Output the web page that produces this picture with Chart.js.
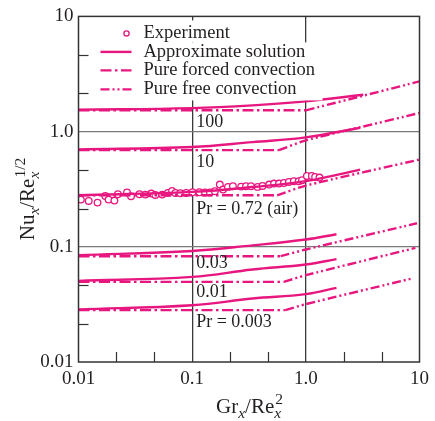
<!DOCTYPE html>
<html>
<head>
<meta charset="utf-8">
<script src="https://cdn.jsdelivr.net/npm/chart.js@4.4.0/dist/chart.umd.min.js"></script>
<style>
    body { margin: 0; background: #fff; }
    #wrap { width: 435px; height: 421px; }
</style>
</head>
<body>
<div id="wrap"><canvas id="chart1" width="435" height="421"></canvas></div>
<script>
// x = Gr_x/Re_x^2, y = Nu_x/Re_x^(1/2)
const decadeTicks = [0.01, 0.1, 1, 10];
const decadeLabels = ['0.01', '0.1', '1.0', '10'];
const minorTicks = [0.0215, 0.0464, 0.215, 0.464, 2.15, 4.64];

const prLabels = ['100', '10', 'Pr = 0.72 (air)', '0.03', '0.01', 'Pr = 0.003'];

// approximate solution (solid)
const approxX = [
    [0.01, 0.1, 0.34, 1.0, 3.2],
    [0.01, 0.1, 0.34, 1.0, 3.0],
    [0.01, 0.1, 0.34, 1.0, 3.0],
    [0.01, 0.1, 0.34, 1.0, 1.86],
    [0.01, 0.1, 0.34, 1.0, 1.86],
    [0.01, 0.1, 0.34, 1.0, 1.86]
];
const approxY = [
    [1.55, 1.60, 1.69, 1.83, 2.09],
    [0.70, 0.735, 0.81, 0.89, 1.08],
    [0.28, 0.30, 0.33, 0.372, 0.468],
    [0.0846, 0.092, 0.103, 0.1157, 0.1286],
    [0.0506, 0.0548, 0.0636, 0.0702, 0.0781],
    [0.0286, 0.0311, 0.0356, 0.0388, 0.0440]
];

// pure forced convection (dash-dot)
const forcedX = [
    [0.01, 1.0],
    [0.01, 0.58],
    [0.01, 0.56],
    [0.01, 0.60],
    [0.01, 0.64],
    [0.01, 0.66]
];
const forcedY = [
    [1.53, 1.53],
    [0.69, 0.69],
    [0.28, 0.28],
    [0.0829, 0.0829],
    [0.0496, 0.0496],
    [0.0282, 0.0282]
];

// pure free convection (dash-dot-dot)
const freeX = [
    [1.0, 10],
    [0.58, 1.0, 3.0, 10],
    [0.56, 1.0, 10],
    [0.60, 1.0, 9.5],
    [0.64, 1.0, 9.2],
    [0.66, 1.0, 8.6]
];
const freeY = [
    [1.53, 2.73],
    [0.69, 0.84, 1.09, 1.45],
    [0.28, 0.34, 0.572],
    [0.0829, 0.0948, 0.160],
    [0.0496, 0.0567, 0.0978],
    [0.0282, 0.0318, 0.0531]
];

// experiment, Pr = 0.72
const expX = [0.0105, 0.0123, 0.0147, 0.0172, 0.0184, 0.0207, 0.0222, 0.0267, 0.0290, 0.0344,
    0.0388, 0.0437, 0.0474, 0.0545, 0.0611, 0.0665, 0.0712, 0.0787, 0.0887, 0.1006,
    0.1157, 0.1297, 0.1433, 0.1584, 0.1751, 0.1870, 0.2066, 0.2284, 0.2696, 0.2979,
    0.3292, 0.3763, 0.4159, 0.4755, 0.5254, 0.5807, 0.6418, 0.7094, 0.7840, 0.8660,
    0.9250, 1.022, 1.130, 1.207, 1.318];
const expY = [0.257, 0.250, 0.242, 0.276, 0.257, 0.252, 0.286, 0.296, 0.275, 0.286,
    0.284, 0.290, 0.282, 0.284, 0.293, 0.305, 0.293, 0.292, 0.293, 0.2975,
    0.2975, 0.296, 0.296, 0.3035, 0.347, 0.314, 0.331, 0.3355, 0.333, 0.3355,
    0.3355, 0.331, 0.3375, 0.347, 0.354, 0.354, 0.358, 0.3655, 0.371, 0.371,
    0.378, 0.412, 0.412, 0.404, 0.399];

const legendNames = ['Experiment', 'Approximate solution', 'Pure forced convection', 'Pure free convection'];

const pink = '#e8177f';
const serif = '"Liberation Serif", "Times New Roman", serif';
const forcedDash = [11, 3.5, 2.5, 3.5];
const freeDash = [9, 3, 2, 3, 2, 3];

function toPoints(xs, ys) {
    return xs.map(function (x, i) { return { x: x, y: ys[i] }; });
}

function lineSet(xs, ys, dash, tension) {
    return {
        data: toPoints(xs, ys),
        showLine: true,
        borderColor: pink,
        borderWidth: 2.4,
        borderDash: dash,
        borderCapStyle: 'butt',
        pointRadius: 0,
        tension: tension,
        fill: false
    };
}

const datasets = [];
for (let i = 0; i < prLabels.length; i++) {
    datasets.push(lineSet(approxX[i], approxY[i], [], 0.4));
    datasets.push(lineSet(forcedX[i], forcedY[i], forcedDash, 0));
    datasets.push(lineSet(freeX[i], freeY[i], freeDash, 0.2));
}
datasets.push({
    data: toPoints(expX, expY),
    showLine: false,
    pointStyle: 'circle',
    pointRadius: 3.3,
    pointBorderWidth: 1.3,
    pointBorderColor: pink,
    pointBackgroundColor: '#fff'
});

// label positions (y in data units) next to the x = 0.1 grid line
const prLabelY = [1.20, 0.542, 0.212, 0.0714, 0.040, 0.0220];

function isDecade(v) {
    return decadeTicks.indexOf(v) >= 0;
}

// text with italic subscript and an optional superscript stacked on it
const subRatio = 0.74;

function richWidth(ctx, parts, size) {
    let w = 0;
    parts.forEach(function (p) {
        ctx.font = p.sub ? 'italic ' + (size * subRatio) + 'px ' + serif : size + 'px ' + serif;
        let pw = ctx.measureText(p.t).width;
        if (p.sup) {
            ctx.font = (size * subRatio) + 'px ' + serif;
            pw = Math.max(pw, ctx.measureText(p.sup).width);
        }
        w += pw;
    });
    return w;
}

function drawRich(ctx, parts, x, y, size) {
    let cx = x;
    parts.forEach(function (p) {
        if (p.sub) {
            ctx.font = 'italic ' + (size * subRatio) + 'px ' + serif;
            ctx.fillText(p.t, cx, y + size * 0.26);
            let pw = ctx.measureText(p.t).width;
            if (p.sup) {
                ctx.font = (size * subRatio) + 'px ' + serif;
                ctx.fillText(p.sup, cx + 1, y - size * 0.42);
                pw = Math.max(pw, ctx.measureText(p.sup).width + 1);
            }
            cx += pw;
        } else {
            ctx.font = size + 'px ' + serif;
            ctx.fillText(p.t, cx, y);
            cx += ctx.measureText(p.t).width;
        }
    });
}

const xTitle = [{ t: 'Gr' }, { t: 'x', sub: true }, { t: '/Re' }, { t: 'x', sub: true, sup: '2' }];
const yTitle = [{ t: 'Nu' }, { t: 'x', sub: true }, { t: '/Re' }, { t: 'x', sub: true, sup: '1/2' }];

const decorPlugin = {
    id: 'decor',
    afterDraw: function (chart) {
        const ctx = chart.ctx;
        const area = chart.chartArea;
        const xs = chart.scales.x;
        const ys = chart.scales.y;
        ctx.save();

        // minor ticks inside left and bottom
        ctx.strokeStyle = '#333';
        ctx.lineWidth = 1.2;
        minorTicks.forEach(function (v) {
            const px = Math.round(xs.getPixelForValue(v)) + 0.5;
            ctx.beginPath();
            ctx.moveTo(px, area.bottom);
            ctx.lineTo(px, area.bottom - 10);
            ctx.stroke();
            const py = Math.round(ys.getPixelForValue(v)) + 0.5;
            ctx.beginPath();
            ctx.moveTo(area.left, py);
            ctx.lineTo(area.left + 10, py);
            ctx.stroke();
        });

        // frame
        ctx.lineWidth = 1.5;
        ctx.strokeStyle = '#333';
        ctx.strokeRect(area.left, area.top, area.right - area.left, area.bottom - area.top);

        // legend
        ctx.fillStyle = '#fff';
        ctx.fillRect(area.left + 17, area.top + 4, 145, 22);
        ctx.fillRect(area.left + 17, area.top + 26, 227, 58);
        const rowY = [17, 35.5, 54, 73];
        const dashes = [null, [], forcedDash, freeDash];
        ctx.textBaseline = 'middle';
        ctx.textAlign = 'left';
        for (let i = 0; i < legendNames.length; i++) {
            const y = area.top + rowY[i];
            ctx.strokeStyle = pink;
            if (i === 0) {
                ctx.lineWidth = 1.3;
                ctx.beginPath();
                ctx.arc(area.left + 48, y, 2.6, 0, Math.PI * 2);
                ctx.stroke();
            } else {
                ctx.lineWidth = 2.4;
                ctx.setLineDash(dashes[i]);
                ctx.beginPath();
                ctx.moveTo(area.left + 22, y);
                ctx.lineTo(area.left + 53, y);
                ctx.stroke();
                ctx.setLineDash([]);
            }
            ctx.fillStyle = '#231f20';
            ctx.font = '18.5px ' + serif;
            ctx.fillText(legendNames[i], area.left + 65, y);
        }

        // Pr labels
        ctx.font = '18px ' + serif;
        const lx = xs.getPixelForValue(0.1) + 4;
        for (let i = 0; i < prLabels.length; i++) {
            ctx.fillText(prLabels[i], lx, ys.getPixelForValue(prLabelY[i]));
        }

        // axis titles
        ctx.textBaseline = 'alphabetic';
        ctx.fillStyle = '#231f20';
        const xw = richWidth(ctx, xTitle, 21);
        drawRich(ctx, xTitle, 249 - xw / 2, 413, 21);

        const yw = richWidth(ctx, yTitle, 21);
        ctx.translate(34, 199.5);
        ctx.rotate(-Math.PI / 2);
        drawRich(ctx, yTitle, -yw / 2, 0, 21);

        ctx.restore();
    }
};

function logAxis(isX) {
    return {
        type: 'logarithmic',
        min: 0.01,
        max: 10,
        afterBuildTicks: function (axis) {
            axis.ticks = decadeTicks.concat(minorTicks).sort(function (a, b) { return a - b; })
                .map(function (v) { return { value: v }; });
        },
        afterFit: function (axis) {
            if (isX) {
                axis.height = 59;
            } else {
                axis.width = 78.5;
            }
        },
        grid: {
            drawTicks: false,
            lineWidth: isX ? 1.3 : 1.2,
            color: function (c) {
                const v = c.tick ? c.tick.value : null;
                if (v !== null && isDecade(v) && v > 0.01 && v < 10) {
                    return isX ? '#3a3a3a' : '#7a7a7a';
                }
                return 'rgba(0,0,0,0)';
            }
        },
        border: { display: false },
        ticks: {
            autoSkip: false,
            maxRotation: 0,
            padding: isX ? 6 : 5,
            color: '#231f20',
            font: { family: serif, size: 19 },
            callback: function (value) {
                const i = decadeTicks.indexOf(value);
                return i >= 0 ? decadeLabels[i] : '';
            }
        }
    };
}

const myChart = new Chart(document.getElementById('chart1'), {
    type: 'scatter',
    data: { datasets: datasets },
    options: {
        responsive: false,
        animation: false,
        layout: { padding: { top: 16, right: 11, left: 0, bottom: 0 } },
        plugins: {
            legend: { display: false },
            tooltip: { enabled: false }
        },
        scales: {
            x: logAxis(true),
            y: logAxis(false)
        }
    },
    plugins: [decorPlugin]
});
</script>
</body>
</html>
